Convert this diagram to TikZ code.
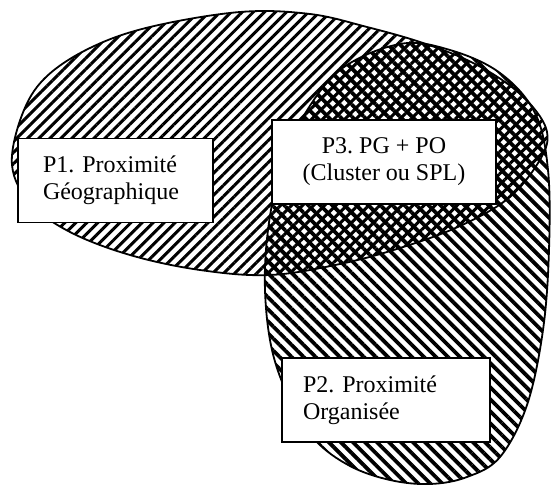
\documentclass[tikz,border=0pt]{standalone}
\usepackage{fontspec}
\setmainfont{Liberation Serif}
\usetikzlibrary{patterns.meta}
\frenchspacing

\def\shapegeo{plot[smooth cycle, tension=0.6] coordinates {(12,165) (22,115) (45,78) (90,48) (150,27) (240,12) (310,14) (367,27) (420,42) (467,60) (505,82) (532,106) (547,132) (541,158) (510,197) (460,226) (400,248) (340,264) (270,275) (200,270) (130,255) (70,232) (30,203)}}
\def\shapeorg{plot[smooth cycle, tension=0.6] coordinates {(400,44) (450,50) (500,73) (535,113) (548,170) (549,250) (543,330) (527,405) (500,457) (467,477) (430,484) (390,480) (350,466) (315,440) (290,400) (272,350) (265,290) (268,230) (280,170) (300,122) (340,70)}}

\begin{document}
\begin{tikzpicture}[x=1pt, y=-1pt, every node/.style={font=\fontsize{24}{27}\selectfont},
  tag/.style={draw, line width=1.4pt, fill=white, inner ysep=0pt, minimum height=84pt},
  hatchgeo/.style={pattern={Lines[angle=45, distance=7.8pt, line width=3pt]}},
  hatchorg/.style={pattern={Lines[angle=-45, distance=8.5pt, line width=3.8pt]}},
  rim/.style={line width=1.8pt}]
  \useasboundingbox (0,0) rectangle (552,486);
  % the two proximities, crossed where they overlap
  \fill[hatchgeo] \shapegeo;
  \fill[hatchorg] \shapeorg;
  \draw[rim] \shapegeo;
  \draw[rim] \shapeorg;
  \node[tag, inner xsep=25pt, text width=145pt, align=left] (geo) at (115.5,180.5) {P1. Proximité\\Géographique};
  \node[tag, inner xsep=0pt, minimum width=224pt, align=center] (both) at (384,162) {P3. PG + PO\\(Cluster ou SPL)};
  \node[tag, inner xsep=21pt, text width=166pt, align=left] (org) at (386,400) {P2. Proximité\\Organisée};
\end{tikzpicture}
\end{document}
